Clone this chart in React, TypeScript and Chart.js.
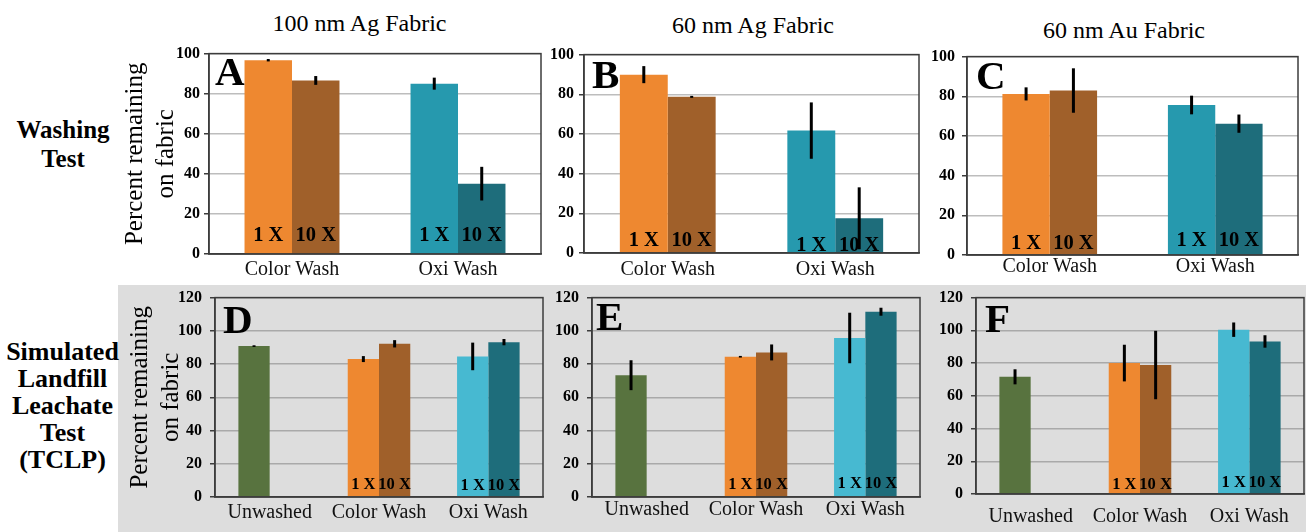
import React, { useEffect, useRef } from 'react';
import { Chart, registerables } from 'chart.js';
Chart.register(...registerables);

// ---------- data ----------
const washCategories = ['Color Wash', 'Oxi Wash'];
const leachCategories = ['Unwashed', 'Color Wash', 'Oxi Wash'];
const seriesNames = ['1 X', '10 X'];
const washTicksMax = 100;
const leachTicksMax = 120;
const tickStep = 20;

// A: 100 nm Ag, washing
const a1X = [96.7, 85.0];
const a1XErr = [0.6, 3.0];
const a10X = [86.6, 35.1];
const a10XErr = [2.2, 8.4];
// B: 60 nm Ag, washing
const b1X = [89.9, 61.7];
const b1XErr = [4.3, 14.2];
const b10X = [78.7, 17.5];
const b10XErr = [0.5, 15.6];
// C: 60 nm Au, washing
const c1X = [81.2, 75.6];
const c1XErr = [3.3, 4.7];
const c10X = [82.9, 66.2];
const c10XErr = [11.2, 4.6];
// D: 100 nm Ag, TCLP
const d1X = [90.8, 83.0, 84.6];
const d1XErr = [0.5, 1.8, 8.3];
const d10X = [null, 92.2, 93.2];
const d10XErr = [0, 2.2, 1.9];
// E: 60 nm Ag, TCLP
const e1X = [73.3, 84.4, 95.7];
const e1XErr = [9.0, 0.5, 15.2];
const e10X = [null, 87.0, 111.5];
const e10XErr = [0, 4.8, 2.4];
// F: 60 nm Au, TCLP
const f1X = [71.6, 80.0, 100.4];
const f1XErr = [4.6, 11.2, 4.4];
const f10X = [null, 78.8, 93.2];
const f10XErr = [0, 20.9, 3.8];

// ---------- styles ----------
const SERIF = '"Liberation Serif", "Times New Roman", Times, serif';
const ORANGE = '#EE8830';
const BROWN = '#A0602A';
const TEAL = '#2699AE';
const DARK_TEAL = '#1E6D7B';
const LIGHT_BLUE = '#47B9D1';
const GREEN = '#58733F';
const FRAME = '#3c3c3c';
const GRAY_BG = '#DDDDDD';

const extrasPlugin = {
  id: 'extras',
  afterDatasetsDraw(chart: any, _args: any, opts: any) {
    const { ctx, chartArea } = chart;
    const yScale = chart.scales.y;
    ctx.save();
    // bar tags
    ctx.font = `bold ${opts.tagSize}px ${SERIF}`;
    ctx.fillStyle = '#000';
    ctx.textAlign = 'center';
    ctx.textBaseline = 'alphabetic';
    chart.data.datasets.forEach((ds: any, di: number) => {
      const meta = chart.getDatasetMeta(di);
      meta.data.forEach((el: any, i: number) => {
        if (ds.data[i] == null || i < opts.tagFrom) return;
        ctx.fillText(seriesNames[di], el.x, chartArea.bottom - opts.tagLift[i]);
      });
    });
    // error bars
    ctx.strokeStyle = '#000';
    ctx.lineWidth = 3;
    ctx.lineCap = 'butt';
    chart.data.datasets.forEach((ds: any, di: number) => {
      const meta = chart.getDatasetMeta(di);
      const errs = ds.errors || [];
      meta.data.forEach((el: any, i: number) => {
        const v = ds.data[i];
        const e = errs[i];
        if (v == null || !e) return;
        ctx.beginPath();
        ctx.moveTo(el.x, yScale.getPixelForValue(v + e));
        ctx.lineTo(el.x, yScale.getPixelForValue(Math.max(0, v - e)));
        ctx.stroke();
      });
    });
    // panel letter
    ctx.font = `bold 41px ${SERIF}`;
    ctx.textAlign = 'left';
    ctx.fillText(opts.letter, chartArea.left + opts.letterDx, chartArea.top + opts.letterDy);
    ctx.restore();
  },
  afterDraw(chart: any) {
    const { ctx, chartArea } = chart;
    ctx.save();
    ctx.strokeStyle = FRAME;
    ctx.lineWidth = 1.5;
    ctx.strokeRect(chartArea.left, chartArea.top, chartArea.right - chartArea.left, chartArea.bottom - chartArea.top);
    ctx.restore();
  },
};

type Panel = {
  letter: string;
  labels: string[];
  v1: (number | null)[];
  e1: number[];
  v10: (number | null)[];
  e10: number[];
  c1: string[];
  c10: string[];
  max: number;
  box: { x: number; y: number; w: number; h: number };
  padTop: number;
  padRight: number;
  yW: number;
  xH: number;
  xPad: number;
  yPad: number;
  grid: string;
  tagSize: number;
  tagLift: number[];
  tagFrom: number;
  letterDx: number;
  letterDy: number;
  yTitlePad?: number;
};

const panels: Panel[] = [
  {
    letter: 'A', labels: washCategories, v1: a1X, e1: a1XErr, v10: a10X, e10: a10XErr,
    c1: [ORANGE, TEAL], c10: [BROWN, DARK_TEAL], max: washTicksMax,
    box: { x: 100, y: 40, w: 460, h: 250 }, padTop: 12, padRight: 19, yW: 109, xH: 36,
    xPad: 3.5, yPad: 4, grid: '#BDBDBD', tagSize: 20.5, tagLift: [13, 13], tagFrom: 0,
    letterDx: 6, letterDy: 31.5, yTitlePad: 19.25,
  },
  {
    letter: 'B', labels: washCategories, v1: b1X, e1: b1XErr, v10: b10X, e10: b10XErr,
    c1: [ORANGE, TEAL], c10: [BROWN, DARK_TEAL], max: washTicksMax,
    box: { x: 540, y: 40, w: 385, h: 250 }, padTop: 12, padRight: 6, yW: 44, xH: 37,
    xPad: 4.5, yPad: 5, grid: '#BDBDBD', tagSize: 20.5, tagLift: [7, 2], tagFrom: 0,
    letterDx: 8, letterDy: 33.5,
  },
  {
    letter: 'C', labels: washCategories, v1: c1X, e1: c1XErr, v10: c10X, e10: c10XErr,
    c1: [ORANGE, TEAL], c10: [BROWN, DARK_TEAL], max: washTicksMax,
    box: { x: 925, y: 40, w: 381, h: 250 }, padTop: 13, padRight: 8, yW: 42, xH: 35,
    xPad: 0, yPad: 7, grid: '#BDBDBD', tagSize: 20.5, tagLift: [6, 9], tagFrom: 0,
    letterDx: 9, letterDy: 32.5,
  },
  {
    letter: 'D', labels: leachCategories, v1: d1X, e1: d1XErr, v10: d10X, e10: d10XErr,
    c1: [GREEN, ORANGE, LIGHT_BLUE], c10: [BROWN, BROWN, DARK_TEAL], max: leachTicksMax,
    box: { x: 100, y: 280, w: 460, h: 252 }, padTop: 16, padRight: 17, yW: 115, xH: 35,
    xPad: 4, yPad: 8, grid: '#A9A9A9', tagSize: 16.5, tagLift: [8, 8, 7], tagFrom: 1,
    letterDx: 8, letterDy: 35.5, yTitlePad: 24.25,
  },
  {
    letter: 'E', labels: leachCategories, v1: e1X, e1: e1XErr, v10: e10X, e10: e10XErr,
    c1: [GREEN, ORANGE, LIGHT_BLUE], c10: [BROWN, BROWN, DARK_TEAL], max: leachTicksMax,
    box: { x: 545, y: 280, w: 380, h: 252 }, padTop: 15, padRight: 5, yW: 47, xH: 35,
    xPad: 1, yPad: 8, grid: '#A9A9A9', tagSize: 16.5, tagLift: [8, 8.4, 9.4], tagFrom: 1,
    letterDx: 4, letterDy: 32,
  },
  {
    letter: 'F', labels: leachCategories, v1: f1X, e1: f1XErr, v10: f10X, e10: f10XErr,
    c1: [GREEN, ORANGE, LIGHT_BLUE], c10: [BROWN, BROWN, DARK_TEAL], max: leachTicksMax,
    box: { x: 925, y: 280, w: 381, h: 252 }, padTop: 12, padRight: 2, yW: 51, xH: 38,
    xPad: 10.5, yPad: 8, grid: '#A9A9A9', tagSize: 16.5, tagLift: [6, 5.4, 7], tagFrom: 1,
    letterDx: 9, letterDy: 34.5,
  },
];

function PanelChart({ p }: { p: Panel }) {
  const ref = useRef<HTMLCanvasElement | null>(null);
  useEffect(() => {
    if (!ref.current) return;
    const chart = new Chart(ref.current, {
      type: 'bar',
      data: {
        labels: p.labels,
        datasets: [
          {
            label: seriesNames[0], data: p.v1, errors: p.e1, backgroundColor: p.c1,
            borderWidth: 0, categoryPercentage: 0.572, barPercentage: 1,
          } as any,
          {
            label: seriesNames[1], data: p.v10, errors: p.e10, backgroundColor: p.c10,
            borderWidth: 0, categoryPercentage: 0.572, barPercentage: 1,
          } as any,
        ],
      },
      options: {
        animation: false,
        responsive: false,
        maintainAspectRatio: false,
        events: [],
        layout: { padding: { top: p.padTop, right: p.padRight, left: 0, bottom: 0 } },
        plugins: {
          legend: { display: false },
          tooltip: { enabled: false },
          extras: {
            letter: p.letter, letterDx: p.letterDx, letterDy: p.letterDy,
            tagSize: p.tagSize, tagLift: p.tagLift, tagFrom: p.tagFrom,
          },
        } as any,
        scales: {
          x: {
            grid: { display: false, drawTicks: false },
            border: { color: FRAME, width: 1.5 },
            ticks: {
              font: { family: SERIF, size: 20 }, color: '#111', padding: p.xPad,
              autoSkip: false, maxRotation: 0, minRotation: 0,
            },
            afterFit: (s: any) => { s.height = p.xH; },
          },
          y: {
            min: 0, max: p.max,
            ticks: {
              stepSize: tickStep, font: { family: SERIF, size: 16, weight: 'bold' },
              color: '#000', padding: p.yPad,
            },
            grid: { color: p.grid, lineWidth: 1.5, tickColor: FRAME, tickLength: 5, drawTicks: true },
            border: { color: FRAME, width: 1.5 },
            title: {
              display: p.yTitlePad !== undefined,
              text: ['Percent remaining', 'on fabric'],
              font: { family: SERIF, size: 25, lineHeight: 1.26 },
              color: '#000',
              padding: { top: p.yTitlePad || 0, bottom: 0 },
            },
            afterFit: (s: any) => { s.width = p.yW; },
          },
        },
      },
      plugins: [extrasPlugin],
    } as any);
    return () => chart.destroy();
  }, [p]);
  return (
    <canvas
      ref={ref}
      width={p.box.w}
      height={p.box.h}
      style={{ position: 'absolute', left: p.box.x, top: p.box.y, width: p.box.w, height: p.box.h }}
    />
  );
}

const titleStyle = (center: number, top: number): React.CSSProperties => ({
  position: 'absolute', left: center - 150, width: 300, top, textAlign: 'center',
  fontFamily: SERIF, fontSize: 24, lineHeight: '28px', color: '#000', whiteSpace: 'nowrap',
});

export default function App() {
  return (
    <div style={{ position: 'fixed', left: 0, top: 0, width: 1306, height: 532, background: '#fff', overflow: 'hidden' }}>
      <div style={{ position: 'absolute', left: 118, top: 285, width: 1188, height: 247, background: GRAY_BG }} />
      <div style={titleStyle(359.5, 8.6)}>100 nm Ag Fabric</div>
      <div style={titleStyle(753, 11)}>60 nm Ag Fabric</div>
      <div style={titleStyle(1124, 16)}>60 nm Au Fabric</div>
      <div style={{
        position: 'absolute', left: 0, width: 126, top: 114.6, textAlign: 'center', fontFamily: SERIF,
        fontWeight: 'bold', fontSize: 25, lineHeight: '29px', color: '#000',
      }}>Washing<br />Test</div>
      <div style={{
        position: 'absolute', left: 0, width: 125, top: 338.4, textAlign: 'center', fontFamily: SERIF,
        fontWeight: 'bold', fontSize: 26, lineHeight: '27px', color: '#000',
      }}>Simulated<br />Landfill<br />Leachate<br />Test<br />(TCLP)</div>
      {panels.map((p) => <PanelChart key={p.letter} p={p} />)}
    </div>
  );
}
